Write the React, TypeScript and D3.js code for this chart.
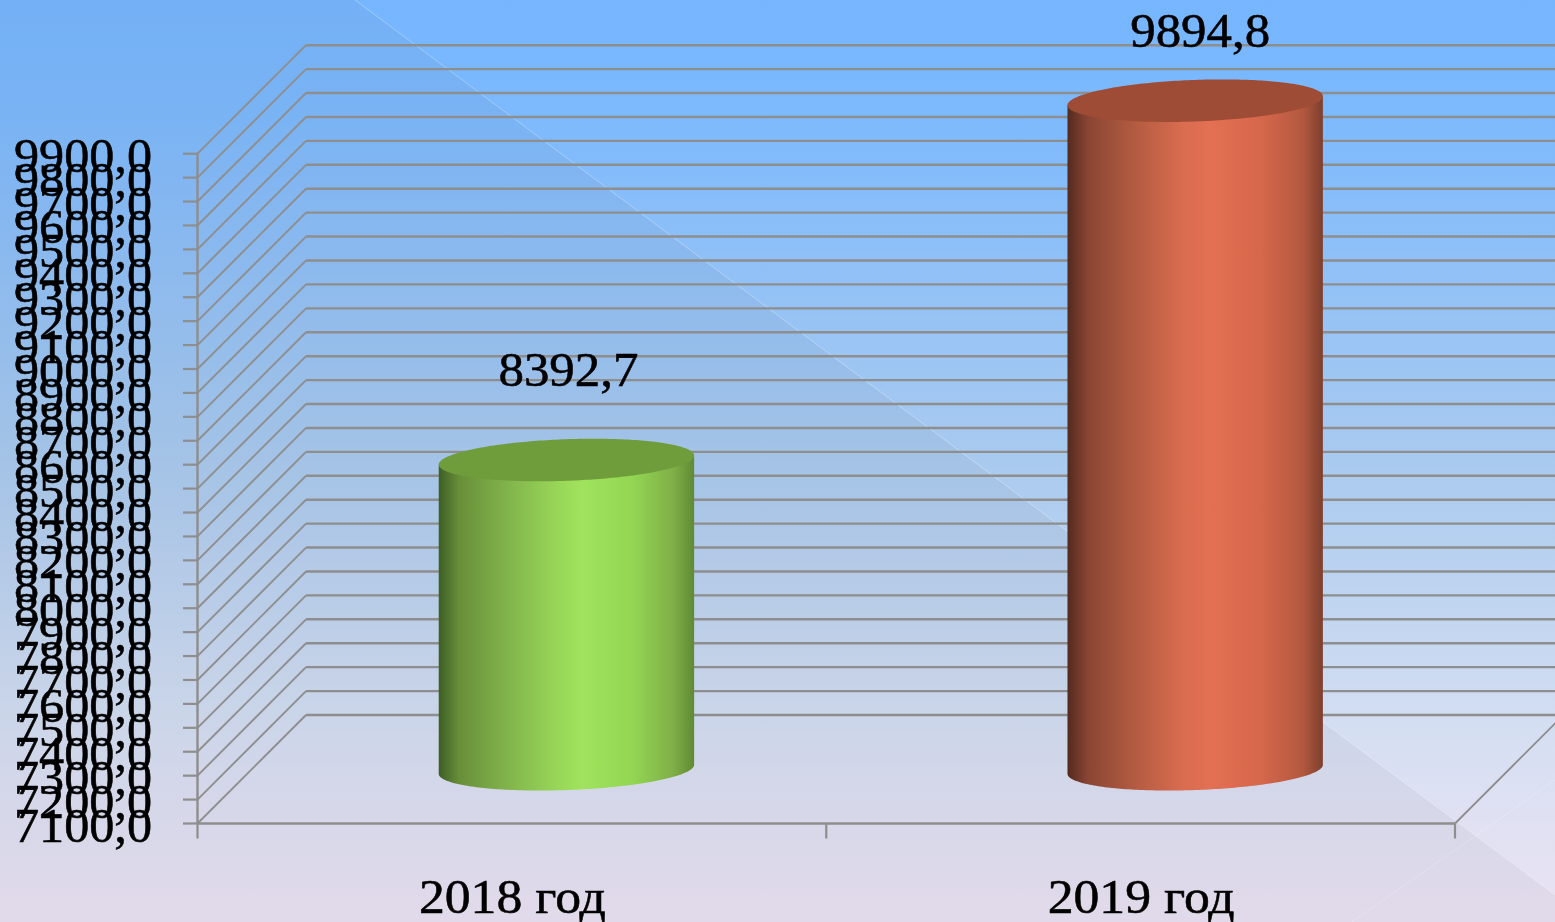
import React from "react";
import * as d3 from "d3";

const categories = ["2018 год", "2019 год"];
const values = [8392.7, 9894.8];
const valueLabels = ["8392,7", "9894,8"];
const tickValues = [7100, 7200, 7300, 7400, 7500, 7600, 7700, 7800, 7900, 8000, 8100, 8200, 8300, 8400, 8500, 8600, 8700, 8800, 8900, 9000, 9100, 9200, 9300, 9400, 9500, 9600, 9700, 9800, 9900];
const barColors = [
  { top: "#6f9d3b", stops: [[0, "#3d5e25"], [8, "#688f38"], [25, "#7fb04a"], [45, "#96d457"], [56, "#a0e35c"], [76, "#93d653"], [92, "#7fae47"], [100, "#5f8a34"]] },
  { top: "#9f4c36", stops: [[0, "#532a1e"], [8, "#8a4533"], [25, "#b05a40"], [45, "#d96c4f"], [56, "#e37052"], [76, "#d5674b"], [92, "#b3593f"], [100, "#7d3f2d"]] },
];

const W = 1555, H = 922;
const DEPTH = 108.5;
const FONT = "'Liberation Serif', serif";
const GRID = "#8e8e8e";
const TEXT_WEIGHT = { fill: "#000", stroke: "#000", strokeWidth: 0.55 };

const y = d3.scaleLinear().domain([7100, 9900]).range([823.5, 153.7]);
const x = d3.scaleBand<string>().domain(categories).range([197.5, 1455]);
const fmt = (v: number) => d3.format(".1f")(v).replace(".", ",");

const RX = 127.7, RY = 20.8, SKEW = 9 / 255;
const ellipsePoint = (cx: number, cy: number, t: number): [number, number] => [
  cx + RX * Math.cos(t),
  cy + RY * Math.sin(t) - SKEW * RX * Math.cos(t),
];
const line = d3.line();
const angles = d3.range(0, 121).map((i) => (i / 120) * Math.PI);

function Cylinder({ i }: { i: number }) {
  const cat = categories[i];
  const cx = x(cat)! + x.bandwidth() / 2 + DEPTH / 2 + 0.3;
  const topY = y(values[i]) - DEPTH / 2;
  const baseY = y(7100) - DEPTH / 2;
  const lower = angles.map((t) => ellipsePoint(cx, baseY, t));
  const leftTop = ellipsePoint(cx, topY, Math.PI);
  const rightTop = ellipsePoint(cx, topY, 0);
  const body = line([rightTop, ...lower, leftTop])! + "Z";
  const cap = line(d3.range(0, 241).map((k) => ellipsePoint(cx, topY, (k / 240) * 2 * Math.PI)))! + "Z";
  return (
    <g>
      <path d={body} fill={`url(#bar${i})`} />
      <path d={cap} fill={barColors[i].top} />
      <text x={cx + 2 + i * 3} y={Math.max(topY - 74, 47)} textAnchor="middle" fontFamily={FONT} fontSize={48} textLength={140} lengthAdjust="spacingAndGlyphs" {...TEXT_WEIGHT}>
        {valueLabels[i]}
      </text>
    </g>
  );
}

export default function App() {
  const left = x.range()[0], right = x.range()[1];
  const xTicks = [left, left + x.bandwidth(), right];
  return (
    <svg width={W} height={H} viewBox={`0 0 ${W} ${H}`} style={{ position: "fixed", left: 0, top: 0, display: "block" }}>
      <defs>
        <linearGradient id="bg" x1="0" y1="0" x2="0" y2="1">
          <stop offset="0" stopColor="#76b6ff" />
          <stop offset="0.12" stopColor="#7cb9fd" />
          <stop offset="0.5" stopColor="#a9caef" />
          <stop offset="0.8" stopColor="#d6dff2" />
          <stop offset="1" stopColor="#ebe3f3" />
        </linearGradient>
        {barColors.map((c, i) => (
          <linearGradient key={i} id={`bar${i}`} x1="0" y1="0" x2="1" y2="0">
            {c.stops.map(([o, col]) => (
              <stop key={o as number} offset={`${o}%`} stopColor={col as string} />
            ))}
          </linearGradient>
        ))}
      </defs>
      <rect width={W} height={H} fill="url(#bg)" />
      <path d="M0 0L355 0L1555 895L1555 922L0 922Z" fill="#50566c" fillOpacity={0.06} />
      <path d="M355 0L1555 895" stroke="#fff" strokeOpacity={0.3} strokeWidth={1} />
      <path d="M1352 922L1555 780" stroke="#fff" strokeOpacity={0.2} strokeWidth={1} />

      {tickValues.map((t) => (
        <g key={t} fill="none" stroke={GRID}>
          <line x1={183} x2={197.5} y1={y(t)} y2={y(t)} strokeWidth={2.2} />
          <line x1={197.5} y1={y(t)} x2={left + DEPTH} y2={y(t) - DEPTH} strokeWidth={1.9} />
          <line x1={left + DEPTH} y1={y(t) - DEPTH} x2={W + 10} y2={y(t) - DEPTH} strokeWidth={2.4} />
        </g>
      ))}
      <line x1={left} x2={left} y1={y(9900)} y2={y(7100)} stroke={GRID} strokeWidth={2.4} />
      <line x1={left} x2={right} y1={y(7100)} y2={y(7100)} stroke={GRID} strokeWidth={2.4} />
      <line x1={right} y1={y(7100)} x2={right + DEPTH} y2={y(7100) - DEPTH} stroke={GRID} strokeWidth={1.9} />
      {xTicks.map((t) => (
        <line key={t} x1={t} x2={t} y1={y(7100)} y2={y(7100) + 15} stroke={GRID} strokeWidth={2.2} />
      ))}

      {tickValues.map((t) => (
        <text key={t} x={152} y={y(t) + 18} textAnchor="end" fontFamily={FONT} fontSize={48} textLength={138} lengthAdjust="spacingAndGlyphs" {...TEXT_WEIGHT}>
          {fmt(t)}
        </text>
      ))}

      {categories.map((_, i) => (
        <Cylinder key={i} i={i} />
      ))}

      {categories.map((c) => (
        <text key={c} x={x(c)! + x.bandwidth() / 2 + 0.5} y={913} textAnchor="middle" fontFamily={FONT} fontSize={48} textLength={187} lengthAdjust="spacingAndGlyphs" {...TEXT_WEIGHT}>
          {c}
        </text>
      ))}
    </svg>
  );
}
